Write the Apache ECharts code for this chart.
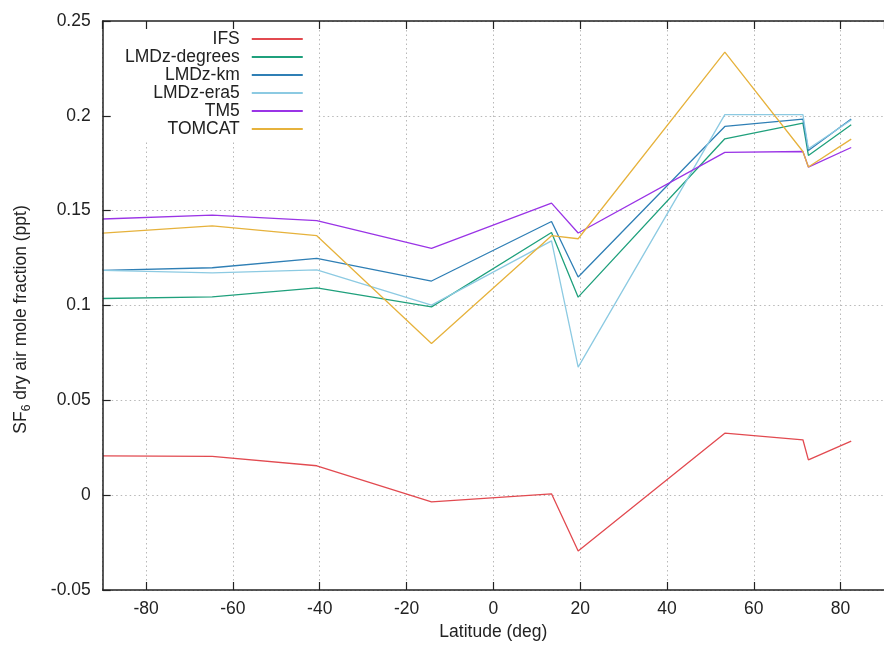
<!DOCTYPE html>
<html>
<head>
<meta charset="utf-8">
<script src="https://cdn.jsdelivr.net/npm/echarts@6/dist/echarts.min.js"></script>
<style>
html,body{margin:0;padding:0;background:#fff;}
#chart{width:884px;height:646px;}
</style>
</head>
<body>
<div id="chart"></div>
<script>
// Station latitudes (deg)
var latitudes = [-89.98, -64.77, -40.68, -14.25, 13.4, 19.54, 53.33, 71.32, 72.58, 82.45];
// SF6 dry air mole fraction (ppt) for each model
var seriesNames = ['IFS', 'LMDz-degrees', 'LMDz-km', 'LMDz-era5', 'TM5', 'TOMCAT'];
var ifs         = [0.0207, 0.0204, 0.0155, -0.0035, 0.0007, -0.0294, 0.0327, 0.0292, 0.0186, 0.0285];
var lmdzDegrees = [0.1037, 0.1046, 0.1093, 0.0993, 0.1385, 0.1044, 0.1879, 0.1962, 0.1791, 0.1953];
var lmdzKm      = [0.1185, 0.1199, 0.1248, 0.1129, 0.1443, 0.1150, 0.1944, 0.1983, 0.1817, 0.1983];
var lmdzEra5    = [0.1185, 0.1172, 0.1188, 0.1002, 0.1341, 0.0675, 0.2006, 0.2006, 0.1826, 0.1978];
var tm5         = [0.1456, 0.1477, 0.1448, 0.1301, 0.1540, 0.1382, 0.1807, 0.1812, 0.1730, 0.1833];
var tomcat      = [0.1382, 0.1420, 0.1368, 0.0800, 0.1368, 0.1352, 0.2336, 0.1812, 0.1730, 0.1877];
var colors = ['#e24a50', '#1fa07c', '#2f7fb5', '#8ccae2', '#9a34e6', '#e6b23c'];

var allValues = [ifs, lmdzDegrees, lmdzKm, lmdzEra5, tm5, tomcat];

var FONT = '"Liberation Sans", Arial, sans-serif';
var chart = echarts.init(document.getElementById('chart'), null, {renderer: 'canvas'});

function xAx(extra) {
  return Object.assign({
    type: 'value', min: -90, max: 90, splitNumber: 9,
    axisLine: {show: false}, axisTick: {show: false}, axisLabel: {show: false},
    splitLine: {show: false}
  }, extra);
}
function yAx(extra) {
  return Object.assign({
    type: 'value', min: -0.05, max: 0.25, interval: 0.05,
    axisLine: {show: false}, axisTick: {show: false}, axisLabel: {show: false},
    splitLine: {show: false}
  }, extra);
}

var series = seriesNames.map(function (name, i) {
  return {
    name: name,
    type: 'line',
    xAxisIndex: 0, yAxisIndex: 0,
    symbol: 'none',
    animation: false,
    lineStyle: {color: colors[i], width: 1.3},
    itemStyle: {color: colors[i]},
    data: latitudes.map(function (lat, k) { return [lat, allValues[i][k]]; }),
    z: 2
  };
});

chart.setOption({
  animation: false,
  backgroundColor: '#fff',
  textStyle: {fontFamily: FONT},
  grid: {left: 102.7, top: 21, right: -9.8, bottom: 56, containLabel: false},
  legend: {
    show: true,
    data: seriesNames,
    orient: 'vertical',
    align: 'right',
    left: 103, top: 21,
    padding: [9, 13, 2, 22],
    backgroundColor: '#fff',
    itemWidth: 51, itemHeight: 14, itemGap: 0,
    selectedMode: false,
    itemStyle: {opacity: 0, color: 'rgba(0,0,0,0)', borderWidth: 0},
    textStyle: {fontFamily: FONT, fontSize: 17.5, color: '#222', lineHeight: 14, padding: [0, 7, 0, 0]},
    z: 4
  },
  xAxis: [
    xAx({position: 'bottom', z: 0,
      splitLine: {show: true, lineStyle: {color: '#b8b8b8', width: 1, type: [1.5, 3]}}}),
    xAx({position: 'bottom', z: 10,
      name: 'Latitude (deg)', nameLocation: 'middle', nameGap: 33,
      nameTextStyle: {fontFamily: FONT, fontSize: 17.5, color: '#222'},
      axisLine: {show: true, onZero: false, lineStyle: {color: '#222', width: 1.5}},
      axisTick: {show: true, inside: true, length: 8, lineStyle: {color: '#222', width: 1.2}},
      axisLabel: {show: true, showMinLabel: false, showMaxLabel: false, margin: 10,
        fontFamily: FONT, fontSize: 17.5, color: '#222'}}),
    xAx({position: 'top', z: 10,
      axisLine: {show: true, onZero: false, lineStyle: {color: '#222', width: 1.5}},
      axisTick: {show: true, inside: true, length: 8, lineStyle: {color: '#222', width: 1.2}}})
  ],
  yAxis: [
    yAx({position: 'left', z: 0,
      splitLine: {show: true, lineStyle: {color: '#b8b8b8', width: 1, type: [1.5, 3]}}}),
    yAx({position: 'left', z: 10,
      name: 'SF{sub|6} dry air mole fraction (ppt)', nameLocation: 'middle', nameGap: 70,
      nameTextStyle: {fontFamily: FONT, fontSize: 17.5, color: '#222', lineHeight: 24,
        padding: [0, 28, 0, 0],
        rich: {sub: {fontFamily: FONT, fontSize: 12, color: '#222', verticalAlign: 'bottom'}}},
      axisLine: {show: true, onZero: false, lineStyle: {color: '#222', width: 1.5}},
      axisTick: {show: true, inside: true, length: 8, lineStyle: {color: '#222', width: 1.2}},
      axisLabel: {show: true, margin: 12, fontFamily: FONT, fontSize: 17.5, color: '#222'}})
  ],
  series: series
});
</script>
</body>
</html>
